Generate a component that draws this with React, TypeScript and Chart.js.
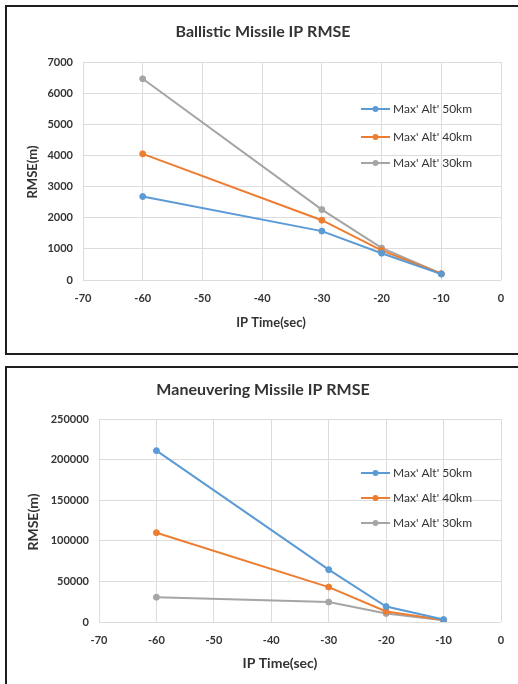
import React, { useEffect, useRef } from "react";
import { Chart, registerables } from "chart.js";

Chart.register(...registerables);

const xValues = [-60, -30, -20, -10];
const seriesNames = ["Max' Alt' 50km", "Max' Alt' 40km", "Max' Alt' 30km"];
const seriesColors = ["#5B9BD5", "#ED7D31", "#A5A5A5"];

const ballistic50 = [2680, 1570, 860, 190];
const ballistic40 = [4050, 1920, 950, 200];
const ballistic30 = [6460, 2260, 1030, 200];

const maneuver50 = [211000, 64500, 19000, 3000];
const maneuver40 = [110000, 43000, 13000, 2500];
const maneuver30 = [30500, 24500, 10500, 2000];

const xTitle = "IP Time(sec)";
const yTitle = "RMSE(m)";
const topTitle = "Ballistic Missile IP RMSE";
const bottomTitle = "Maneuvering Missile IP RMSE";

const FONT = "Lato";
const TEXT = "#333333";

type Layout = {
  width: number;
  height: number;
  left: number;
  top: number;
  right: number;
  bottom: number;
  title: string;
  titleX: number;
  titleY: number;
  titleSize: number;
  legendX1: number;
  legendX2: number;
  legendTextX: number;
  legendYs: number[];
  yMax: number;
  yStep: number;
  axisTitleSize: number;
  yTitleX: number;
  yTitleY: number;
  xTitleX: number;
  xTitleY: number;
};

const titleLegendPlugin = {
  id: "titleLegend",
  afterDraw(chart: any, _args: any, opts: any) {
    const ctx = chart.ctx;
    ctx.save();
    ctx.fillStyle = TEXT;
    ctx.font = `bold ${opts.titleSize}px ${FONT}`;
    ctx.textAlign = "center";
    ctx.textBaseline = "middle";
    ctx.fillText(opts.title, opts.titleX, opts.titleY);

    ctx.font = `bold ${opts.axisTitleSize}px ${FONT}`;
    ctx.fillText(opts.xTitle, opts.xTitleX, opts.xTitleY);
    ctx.save();
    ctx.translate(opts.yTitleX, opts.yTitleY);
    ctx.rotate(-Math.PI / 2);
    ctx.fillText(opts.yTitle, 0, 0);
    ctx.restore();

    chart.data.datasets.forEach((ds: any, i: number) => {
      const y = opts.legendYs[i];
      ctx.strokeStyle = ds.borderColor;
      ctx.lineWidth = 2;
      ctx.beginPath();
      ctx.moveTo(opts.legendX1, y);
      ctx.lineTo(opts.legendX2, y);
      ctx.stroke();
      ctx.fillStyle = ds.borderColor;
      ctx.beginPath();
      ctx.arc((opts.legendX1 + opts.legendX2) / 2, y, 3, 0, Math.PI * 2);
      ctx.fill();
      ctx.fillStyle = TEXT;
      ctx.font = `12px ${FONT}`;
      ctx.textAlign = "left";
      ctx.textBaseline = "middle";
      ctx.fillText(ds.label, opts.legendTextX, y);
    });
    ctx.restore();
  },
};

function LineChart({ layout, series }: { layout: Layout; series: number[][] }) {
  const ref = useRef<HTMLCanvasElement | null>(null);
  useEffect(() => {
    if (!ref.current) return;
    const L = layout;
    const chart = new Chart(ref.current, {
      type: "line",
      data: {
        datasets: series.map((vals, i) => ({
          label: seriesNames[i],
          data: vals.map((v, j) => ({ x: xValues[j], y: v })),
          borderColor: seriesColors[i],
          backgroundColor: seriesColors[i],
          borderWidth: 2,
          pointRadius: 3,
          pointBorderWidth: 1,
          pointBackgroundColor: seriesColors[i],
          pointBorderColor: seriesColors[i],
          tension: 0,
        })),
      },
      options: {
        animation: false,
        responsive: false,
        maintainAspectRatio: false,
        layout: { padding: { left: 0, top: L.top, right: L.width - L.right, bottom: 0 } },
        plugins: {
          legend: { display: false },
          title: { display: false },
          tooltip: { enabled: false },
          titleLegend: {
            title: L.title,
            titleX: L.titleX,
            titleY: L.titleY,
            titleSize: L.titleSize,
            legendX1: L.legendX1,
            legendX2: L.legendX2,
            legendTextX: L.legendTextX,
            legendYs: L.legendYs,
            axisTitleSize: L.axisTitleSize,
            xTitle,
            yTitle,
            xTitleX: L.xTitleX,
            xTitleY: L.xTitleY,
            yTitleX: L.yTitleX,
            yTitleY: L.yTitleY,
          },
        } as any,
        scales: {
          x: {
            type: "linear",
            min: -70,
            max: 0,
            ticks: {
              stepSize: 10,
              color: TEXT,
              font: { family: FONT, size: 11, weight: "bold" },
              padding: 12,
              maxRotation: 0,
              callback: (v: any) => String(v),
            },
            grid: { color: "#dcdcdc", drawTicks: false },
            border: { display: false },
            afterFit(scale: any) {
              scale.height = L.height - L.bottom;
            },
          },
          y: {
            type: "linear",
            min: 0,
            max: L.yMax,
            ticks: {
              stepSize: L.yStep,
              color: TEXT,
              font: { family: FONT, size: 11, weight: "bold" },
              padding: 10,
              callback: (v: any) => String(v),
            },
            grid: { color: "#dcdcdc", drawTicks: false },
            border: { display: false },
            afterFit(scale: any) {
              scale.width = L.left;
            },
          },
        },
      },
      plugins: [titleLegendPlugin],
    });
    return () => chart.destroy();
  }, []);
  return <canvas ref={ref} width={layout.width} height={layout.height} style={{ width: layout.width, height: layout.height, display: "block" }} />;
}

const topLayout: Layout = {
  width: 518,
  height: 350,
  left: 83,
  top: 62,
  right: 501,
  bottom: 280,
  title: topTitle,
  titleX: 263,
  titleY: 32,
  titleSize: 16,
  legendX1: 361,
  legendX2: 390,
  legendTextX: 393,
  legendYs: [109, 137, 163],
  yMax: 7000,
  yStep: 1000,
  axisTitleSize: 13,
  yTitleX: 33,
  yTitleY: 172,
  xTitleX: 271,
  xTitleY: 323,
};

const bottomLayout: Layout = {
  width: 518,
  height: 324,
  left: 99,
  top: 59,
  right: 501,
  bottom: 262,
  title: bottomTitle,
  titleX: 263,
  titleY: 30,
  titleSize: 16,
  legendX1: 361,
  legendX2: 390,
  legendTextX: 393,
  legendYs: [113, 138, 163],
  yMax: 250000,
  yStep: 50000,
  axisTitleSize: 14,
  yTitleX: 33,
  yTitleY: 162,
  xTitleX: 280,
  xTitleY: 303,
};

export default function App() {
  return (
    <div style={{ position: "fixed", left: 0, top: 0, width: 518, height: 684, overflow: "hidden", background: "#fff" }}>
      <div style={{ position: "absolute", left: 5, top: 5, width: 540, height: 346, borderTop: "2px solid #1e1e1e", borderLeft: "2px solid #1e1e1e", borderBottom: "2px solid #1e1e1e" }} />
      <div style={{ position: "absolute", left: 5, top: 366, width: 540, height: 340, borderTop: "2px solid #1e1e1e", borderLeft: "2px solid #1e1e1e" }} />
      <div style={{ position: "absolute", left: 0, top: 0 }}>
        <LineChart layout={topLayout} series={[ballistic50, ballistic40, ballistic30]} />
      </div>
      <div style={{ position: "absolute", left: 0, top: 360 }}>
        <LineChart layout={bottomLayout} series={[maneuver50, maneuver40, maneuver30]} />
      </div>
    </div>
  );
}
